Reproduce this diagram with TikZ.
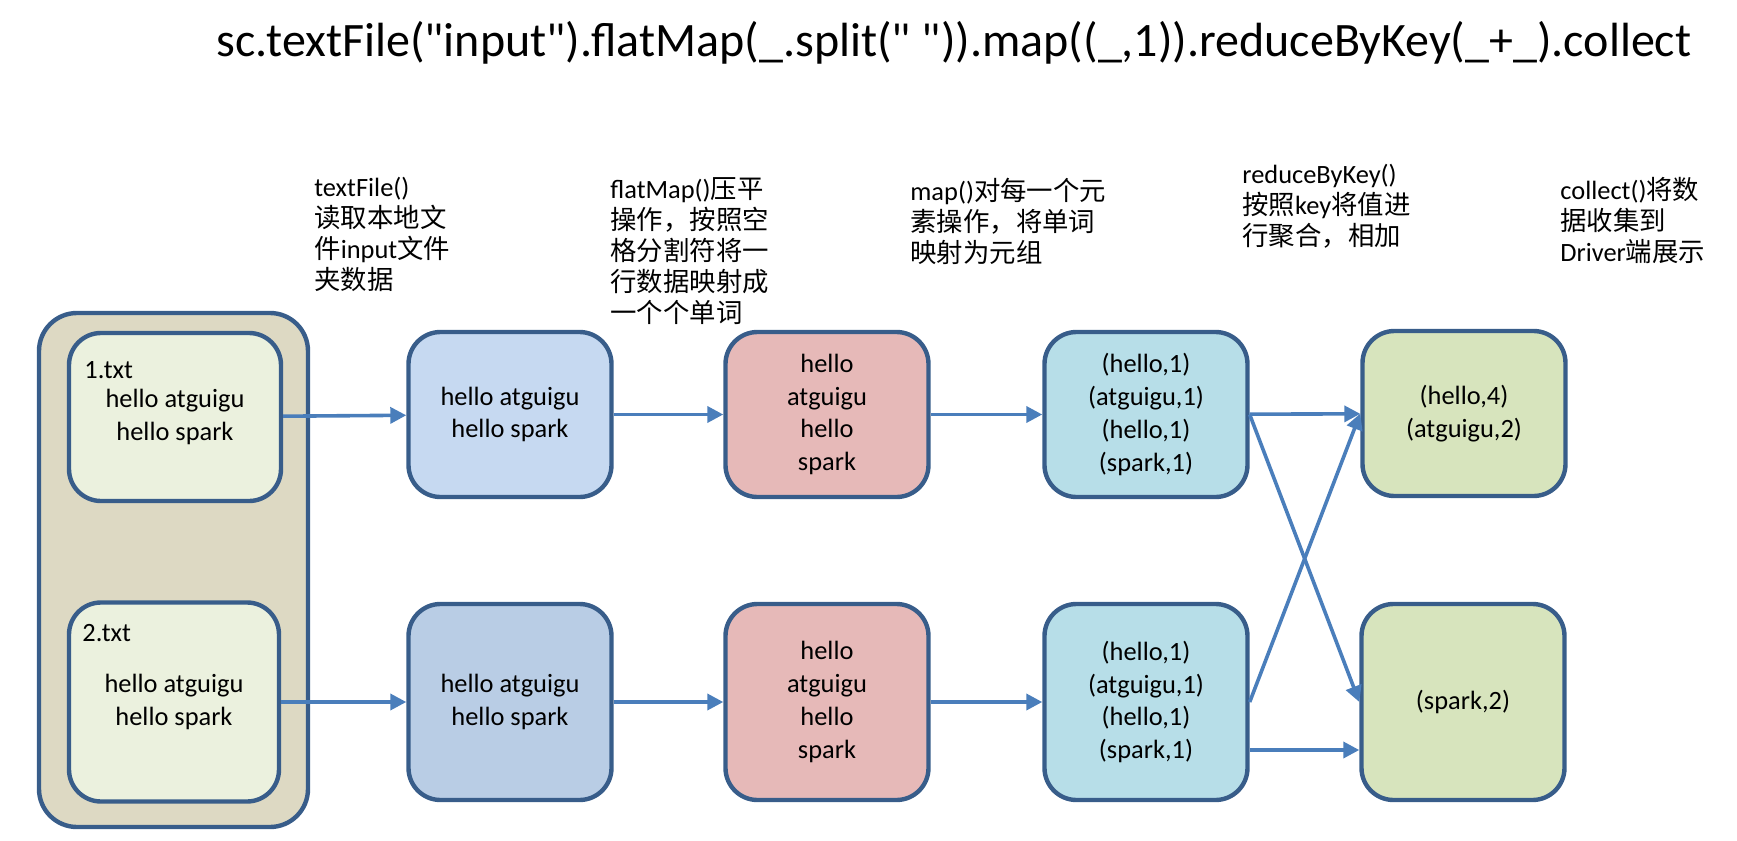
\documentclass[tikz,border=0pt]{standalone}
\usepackage{color}
\usepackage{fontspec}
\setmainfont{Carlito}[Ligatures=TeXOff]
\newfontfamily\zhfont{Noto Sans CJK SC}
\newcommand{\zh}[1]{{\zhfont #1}}
\usepackage{tikz}
\usetikzlibrary{arrows.meta}
\definecolor{edgeblue}{HTML}{385D8A}
\definecolor{arrowblue}{HTML}{4A7EBB}
\definecolor{diskfill}{HTML}{DDD9C3}
\definecolor{filefill}{HTML}{EBF1DE}
\definecolor{linefill}{HTML}{C6D9F1}
\definecolor{linefillb}{HTML}{B9CDE5}
\definecolor{wordfill}{HTML}{E6B9B8}
\definecolor{pairfill}{HTML}{B7DEE8}
\definecolor{sumfill}{HTML}{D7E4BD}

\begin{document}
\begin{tikzpicture}[x=0.5pt,y=-0.5pt]
	\tikzstyle{every node}=[font=\fontsize{13.2}{16.4}\selectfont]
	\tikzstyle{box}=[draw=edgeblue,line width=2.2pt,rounded corners=16pt,align=center,minimum width=101.5pt]
	\tikzstyle{rowa}=[box,minimum height=82.5pt]
	\tikzstyle{rowb}=[box,minimum height=98pt]
	\tikzstyle{note}=[anchor=north west,align=left,inner sep=0pt,font=\fontsize{13.2}{15.5}\selectfont]
	\tikzstyle{flow}=[draw=arrowblue,line width=1.8pt,-{Triangle[length=8pt,width=8pt]}]
	\useasboundingbox (0,0) rectangle (1737,841);

	\node (code) at (954,43) {\fontsize{24}{28}\selectfont sc.textFile("input").flatMap(\_.split(" ")).map((\_,1)).reduceByKey(\_+\_).collect};

	\node[note] (readnote) at (314,177) {textFile()\\\zh{读取本地文}\\\zh{件}input\zh{文件}\\\zh{夹数据}};
	\node[note] (flatnote) at (610,177) {flatMap()\zh{压平}\\\zh{操作，按照空}\\\zh{格分割符将一}\\\zh{行数据映射成}\\\zh{一个个单词}};
	\node[note] (mapnote) at (910,178) {map()\zh{对每一个元}\\\zh{素操作，将单词}\\\zh{映射为元组}};
	\node[note] (reducenote) at (1242,164) {reduceByKey()\\\zh{按照}key\zh{将值进}\\\zh{行聚合，相加}};
	\node[note] (collectnote) at (1560,177) {collect()\zh{将数}\\\zh{据收集到}\\Driver\zh{端展示}};

	\node[draw=edgeblue,line width=2.2pt,fill=diskfill,rounded corners=19pt,minimum width=134.5pt,minimum height=257pt] (disk) at (173.5,570) {};
	\node[rowa,fill=filefill,minimum width=106pt,minimum height=84pt] (file1) at (175,417) {hello atguigu\\hello spark};
	\node[rowb,fill=filefill,minimum width=105pt,minimum height=99.5pt] (file2) at (174,702) {hello atguigu\\hello spark};
	\node[anchor=base west,inner sep=0pt] (name1) at (84,378) {1.txt};
	\node[anchor=base west,inner sep=0pt] (name2) at (82,641) {2.txt};

	\node[rowa,fill=linefill] (lines1) at (510,414.5) {hello atguigu\\hello spark};
	\node[rowb,fill=linefillb] (lines2) at (510,702) {hello atguigu\\hello spark};
	\node[rowa,fill=wordfill] (words1) at (827,414.5) {hello\\atguigu\\hello\\spark};
	\node[rowb,fill=wordfill] (words2) at (827,702) {hello\\atguigu\\hello\\spark};
	\node[rowa,fill=pairfill] (pairs1) at (1146,414.5) {(hello,1)\\(atguigu,1)\\(hello,1)\\(spark,1)};
	\node[rowb,fill=pairfill] (pairs2) at (1146,702) {(hello,1)\\(atguigu,1)\\(hello,1)\\(spark,1)};
	\node[rowa,fill=sumfill] (sums1) at (1464,413.5) {(hello,4)\\(atguigu,2)};
	\node[rowb,fill=sumfill] (sums2) at (1463,702) {(spark,2)};

	\draw[flow] (file1) -- (lines1);
	\draw[flow] (lines1) -- (words1);
	\draw[flow] (words1) -- (pairs1);
	\draw[flow] (pairs1) -- (sums1);
	\draw[flow] (pairs1.east) -- (sums2.west);
	\draw[flow] (file2) -- (lines2);
	\draw[flow] (lines2) -- (words2);
	\draw[flow] (words2) -- (pairs2);
	\draw[flow] (pairs2.east) -- (sums1.west);
	\draw[flow] ([yshift=-24pt]pairs2.east) -- ([yshift=-24pt]sums2.west);
\end{tikzpicture}
\end{document}
